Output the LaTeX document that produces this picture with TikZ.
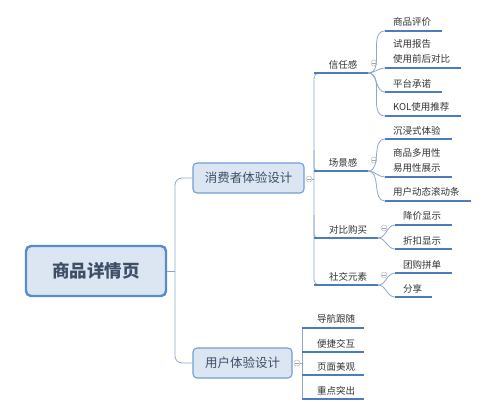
\documentclass[tikz,border=0pt]{standalone}
\usepackage{fontspec}
\usetikzlibrary{calc}
\setmainfont{Noto Sans CJK SC}
\definecolor{ublue}{HTML}{4D7CBE}
\definecolor{lblue}{HTML}{8EA8CC}
\definecolor{txt}{HTML}{333333}
\definecolor{boxtxt}{HTML}{3D4F66}
\definecolor{rootfill}{HTML}{DCE6F3}
\definecolor{rootdraw}{HTML}{5A8CCB}
\begin{document}
\begin{tikzpicture}[x=1pt,y=-1pt,
  font=\fontsize{9.5}{15}\selectfont,
  leaf/.style={anchor=south west, inner sep=0pt, text=txt, align=left},
  blabel/.style={anchor=south, inner sep=0pt, text=txt},
  uline/.style={line width=1.8pt, draw=ublue},
  brk/.style={line width=0.8pt, draw=lblue},
  rootbox/.style={draw=rootdraw, fill=rootfill, line width=2.4pt, rounded corners=5pt,
    minimum width=140pt, minimum height=50pt, text=boxtxt, font=\fontsize{17.5}{20}\selectfont\bfseries},
  subbox/.style={draw=rootdraw!85, fill=rootfill, line width=1.1pt, rounded corners=4pt,
    minimum height=30pt, text=boxtxt, font=\fontsize{12.5}{14}\selectfont},
  mk/.style={circle, draw=gray!55, fill=white, line width=0.5pt, minimum size=6pt, inner sep=0pt,
    path picture={\draw[gray!70,line width=0.5pt] ([xshift=-1.8pt]path picture bounding box.center) -- ([xshift=1.8pt]path picture bounding box.center);}}]
\useasboundingbox[fill=white] (0,0) rectangle (500,412);

% root and level 1
\node[rootbox] (root) at (96,271) {商品详情页};
\node[subbox, minimum width=111pt] (cons) at (248.5,178) {消费者体验设计};
\node[subbox, minimum width=99pt] (user) at (242.5,363) {用户体验设计};
\coordinate (t0) at (175,271);
\draw[brk] (root.east) -- (t0);
\draw[brk, rounded corners=7pt] (cons.west) -| (t0);
\draw[brk, rounded corners=7pt] (user.west) -| (t0);
\node[mk] (mc) at (309,179) {};
\node[mk] (mu) at (297,363) {};

% consumer trunk
\coordinate (tc) at (314,179);
\draw[brk] (mc.east) -- (tc);
\coordinate (s1) at (314,73);  \coordinate (e1) at (368,73);
\coordinate (s2) at (314,171); \coordinate (e2) at (368,171);
\coordinate (s3) at (314,238); \coordinate (e3) at (378,238);
\coordinate (s4) at (314,285); \coordinate (e4) at (378,285);
\draw[brk, rounded corners=5pt] ($(s1)+(8,0)$) -| (tc) |- ($(s4)+(8,0)$);
\draw[brk, rounded corners=4pt] (314,150) |- ($(s2)+(8,0)$);
\draw[brk, rounded corners=4pt] (314,215) |- ($(s3)+(8,0)$);
\foreach \i in {1,2,3,4} {\draw[uline] (s\i) -- (e\i);}
\node[blabel] (b1) at (343,69) {信任感};
\node[blabel] (b2) at (343,167) {场景感};
\node[blabel] (b3) at (348,234) {对比购买};
\node[blabel] (b4) at (348,281) {社交元素};
\node[mk] (m1) at (374,63) {};
\node[mk] (m2) at (374,160) {};
\node[mk] (m3) at (384,228) {};
\node[mk] (m4) at (384,275) {};

% 信任感 children
\coordinate (c11) at (385,31);  \coordinate (d11) at (442,31);
\coordinate (c12) at (385,68);  \coordinate (d12) at (461,68);
\coordinate (c13) at (385,92);  \coordinate (d13) at (442,92);
\coordinate (c14) at (385,116); \coordinate (d14) at (461,116);
\foreach \j in {1,2,3,4} {
  \draw[brk] (e1) to[out=0,in=180] (c1\j);
  \draw[uline] (c1\j) -- (d1\j);}
\node[leaf] (l11) at (393,27) {商品评价};
\node[leaf] (l12) at (393,64) {试用报告\\使用前后对比};
\node[leaf] (l13) at (393,88) {平台承诺};
\node[leaf] (l14) at (393,112) {KOL使用推荐};

% 场景感 children
\coordinate (c21) at (385,139); \coordinate (d21) at (452,139);
\coordinate (c22) at (385,177); \coordinate (d22) at (452,177);
\coordinate (c23) at (385,201); \coordinate (d23) at (471,201);
\foreach \j in {1,2,3} {
  \draw[brk] (e2) to[out=0,in=180] (c2\j);
  \draw[uline] (c2\j) -- (d2\j);}
\node[leaf] (l21) at (393,135) {沉浸式体验};
\node[leaf] (l22) at (393,173) {商品多用性\\易用性展示};
\node[leaf] (l23) at (393,197) {用户动态滚动条};

% 对比购买 children
\coordinate (c31) at (395,225); \coordinate (d31) at (452,225);
\coordinate (c32) at (395,249); \coordinate (d32) at (452,249);
\foreach \j in {1,2} {
  \draw[brk] (e3) to[out=0,in=180] (c3\j);
  \draw[uline] (c3\j) -- (d3\j);}
\node[leaf] (l31) at (403,221) {降价显示};
\node[leaf] (l32) at (403,245) {折扣显示};

% 社交元素 children
\coordinate (c41) at (395,273); \coordinate (d41) at (452,273);
\coordinate (c42) at (395,297); \coordinate (d42) at (432,297);
\foreach \j in {1,2} {
  \draw[brk] (e4) to[out=0,in=180] (c4\j);
  \draw[uline] (c4\j) -- (d4\j);}
\node[leaf] (l41) at (403,269) {团购拼单};
\node[leaf] (l42) at (403,293) {分享};

% user children
\coordinate (tu) at (302,363);
\draw[brk] (mu.east) -- (tu);
\coordinate (u1) at (302,328); \coordinate (v1) at (364,328);
\coordinate (u2) at (302,352); \coordinate (v2) at (364,352);
\coordinate (u3) at (302,375); \coordinate (v3) at (364,375);
\coordinate (u4) at (302,399); \coordinate (v4) at (364,399);
\draw[brk] (u1) -- (u4);
\foreach \j in {1,2,3,4} {\draw[uline] (u\j) -- (v\j);}
\node[leaf] (k1) at (317,324) {导航跟随};
\node[leaf] (k2) at (317,348) {便捷交互};
\node[leaf] (k3) at (317,371) {页面美观};
\node[leaf] (k4) at (317,395) {重点突出};
\end{tikzpicture}
\end{document}
